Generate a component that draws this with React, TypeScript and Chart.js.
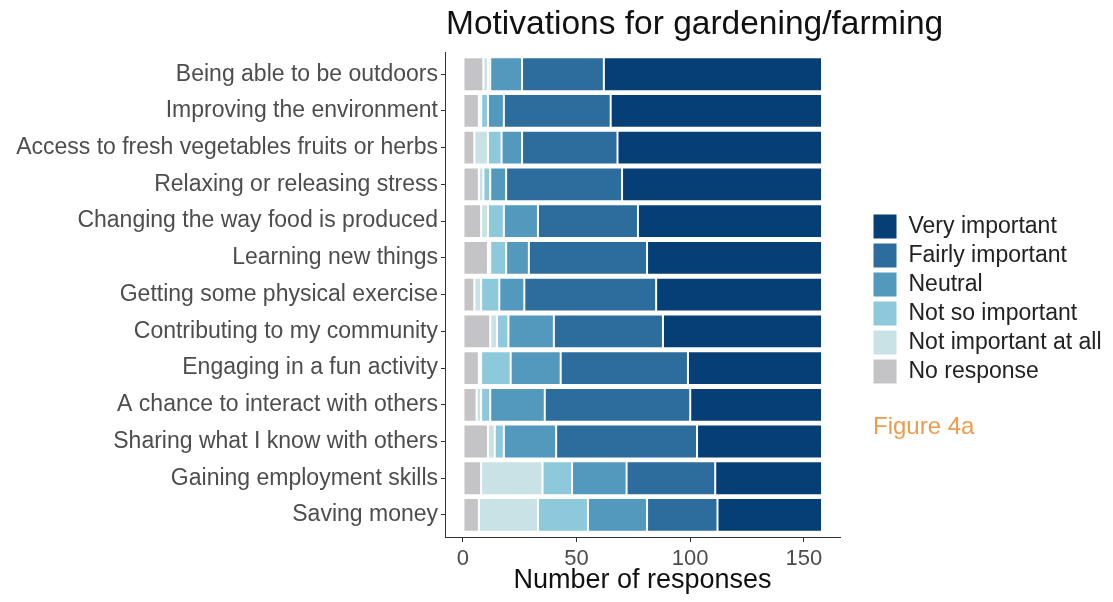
import { useEffect, useRef } from 'react';
import { Chart, registerables } from 'chart.js';

Chart.register(...registerables);

// ---------- data ----------
const categories = [
  'Being able to be outdoors',
  'Improving the environment',
  'Access to fresh vegetables fruits or herbs',
  'Relaxing or releasing stress',
  'Changing the way food is produced',
  'Learning new things',
  'Getting some physical exercise',
  'Contributing to my community',
  'Engaging in a fun activity',
  'A chance to interact with others',
  'Sharing what I know with others',
  'Gaining employment skills',
  'Saving money',
];

const seriesLabels = [
  'No response',
  'Not important at all',
  'Not so important',
  'Neutral',
  'Fairly important',
  'Very important',
];

const noResponse = [9, 7, 5, 7, 8, 11, 5, 12, 7, 6, 11, 8, 7];
const notImportantAtAll = [2, 1, 6, 2, 3, 1, 3, 3, 1, 2, 3, 27, 26];
const notSoImportant = [1, 3, 6, 3, 7, 7, 8, 5, 13, 4, 4, 13, 22];
const neutral = [14, 7, 9, 7, 15, 10, 11, 20, 22, 24, 23, 24, 26];
const fairlyImportant = [36, 47, 42, 51, 44, 52, 58, 48, 56, 64, 62, 39, 31];
const veryImportant = [96, 93, 90, 88, 81, 77, 73, 70, 59, 58, 55, 47, 46];

const seriesValues = [noResponse, notImportantAtAll, notSoImportant, neutral, fairlyImportant, veryImportant];
const seriesColors = ['#c4c4c6', '#c9e2e6', '#8ec9db', '#5299bd', '#2c6d9d', '#063f75'];

const xTicks = [0, 50, 100, 150];
const xMin = -7.9;
const xMax = 165.9;

const titleText = 'Motivations for gardening/farming';
const xTitleText = 'Number of responses';
const figureLabel = 'Figure 4a';

// ---------- layout constants ----------
const W = 1113;
const H = 602;
const FONT = '"Liberation Sans", Arial, Helvetica, sans-serif';
const PLOT_LEFT = 445;
const PLOT_RIGHT = 840;
const PLOT_BOTTOM = 537;
const LEGEND_BOX_LEFT = 873;
const LEGEND_FIRST_TOP = 214;
const LEGEND_PAD = 4;

const tweaks = {
  id: 'tweaks',
  beforeLayout(chart: any) {
    const lg = chart.legend;
    if (lg && !lg.__fixed) {
      const orig = lg.fit;
      lg.fit = function () {
        orig.call(this);
        this.width = W - PLOT_RIGHT;
      };
      lg.__fixed = true;
    }
  },
  afterLayout(chart: any) {
    const lg = chart.legend;
    if (lg) {
      const colH = lg.columnSizes && lg.columnSizes[0] ? lg.columnSizes[0].height : 0;
      const cy = (lg.top + LEGEND_PAD + (lg.bottom - colH)) / 2;
      const dy = LEGEND_FIRST_TOP - cy;
      lg.top += dy;
      lg.bottom += dy;
      lg.left = LEGEND_BOX_LEFT - LEGEND_PAD;
      lg.right = chart.width;
      lg.width = lg.right - lg.left;
    }
    const tb = chart.titleBlock;
    if (tb) {
      tb.left = chart.chartArea.left + 1;
      tb.right = chart.width;
      tb.width = tb.right - tb.left;
    }
  },
  afterDraw(chart: any) {
    const ctx = chart.ctx;
    ctx.save();
    ctx.font = `24px ${FONT}`;
    ctx.fillStyle = '#ef9b4f';
    ctx.textAlign = 'left';
    ctx.textBaseline = 'middle';
    ctx.fillText(figureLabel, LEGEND_BOX_LEFT, 427);
    ctx.restore();
  },
};

export default function App() {
  const ref = useRef<HTMLCanvasElement>(null);

  useEffect(() => {
    document.body.style.margin = '0';
    const canvas = ref.current;
    if (!canvas) return;

    const chart = new Chart(canvas, {
      type: 'bar',
      data: {
        labels: categories.map((_, i) => i),
        datasets: seriesLabels.map((label, i) => ({
          label,
          data: seriesValues[i],
          backgroundColor: seriesColors[i],
          borderColor: '#ffffff',
          borderWidth: 1,
          borderSkipped: false,
          barPercentage: 0.92,
          categoryPercentage: 1,
        })),
      },
      options: {
        indexAxis: 'y',
        responsive: false,
        maintainAspectRatio: false,
        animation: false,
        devicePixelRatio: 1,
        events: [],
        layout: { padding: 0 },
        scales: {
          x: {
            type: 'linear',
            stacked: true,
            min: xMin,
            max: xMax,
            offset: false,
            afterBuildTicks: (s: any) => {
              s.ticks = xTicks.map((v) => ({ value: v }));
            },
            afterFit: (s: any) => {
              s.height = H - PLOT_BOTTOM;
            },
            ticks: {
              font: { size: 22, family: FONT },
              color: '#4d4d4d',
              padding: 4,
            },
            grid: { offset: false, drawOnChartArea: false, drawTicks: true, tickLength: 5, color: '#333333' },
            border: { display: true, color: '#333333', width: 1 },
            title: {
              display: true,
              text: xTitleText,
              font: { size: 27, family: FONT },
              color: '#111111',
              padding: { top: 0, bottom: 5 },
            },
          },
          y: {
            type: 'linear',
            stacked: true,
            reverse: true,
            offset: false,
            min: -0.6,
            max: categories.length - 1 + 0.6,
            afterBuildTicks: (s: any) => {
              s.ticks = categories.map((_, i) => ({ value: i }));
            },
            afterFit: (s: any) => {
              s.width = PLOT_LEFT;
            },
            ticks: {
              autoSkip: false,
              font: { size: 23, family: FONT },
              color: '#4d4d4d',
              padding: 3,
              callback: (v: any) => categories[Math.round(Number(v))] ?? '',
            },
            grid: { offset: false, drawOnChartArea: false, drawTicks: true, tickLength: 4, color: '#333333' },
            border: { display: true, color: '#333333', width: 1 },
          },
        },
        plugins: {
          title: {
            display: true,
            text: titleText,
            align: 'start',
            font: { size: 33.5, weight: 'normal', family: FONT },
            color: '#111111',
            padding: { top: 5, bottom: 7 },
          },
          legend: {
            display: true,
            position: 'right',
            fullSize: false,
            reverse: true,
            align: 'center',
            labels: {
              boxWidth: 24,
              boxHeight: 25,
              padding: LEGEND_PAD,
              font: { size: 23, family: FONT },
              color: '#222222',
            },
          },
          tooltip: { enabled: false },
        },
      } as any,
      plugins: [tweaks],
    });

    return () => chart.destroy();
  }, []);

  return (
    <div style={{ position: 'absolute', left: 0, top: 0, width: W, height: H, background: '#ffffff' }}>
      <canvas ref={ref} width={W} height={H} style={{ width: W, height: H, display: 'block' }} />
    </div>
  );
}
